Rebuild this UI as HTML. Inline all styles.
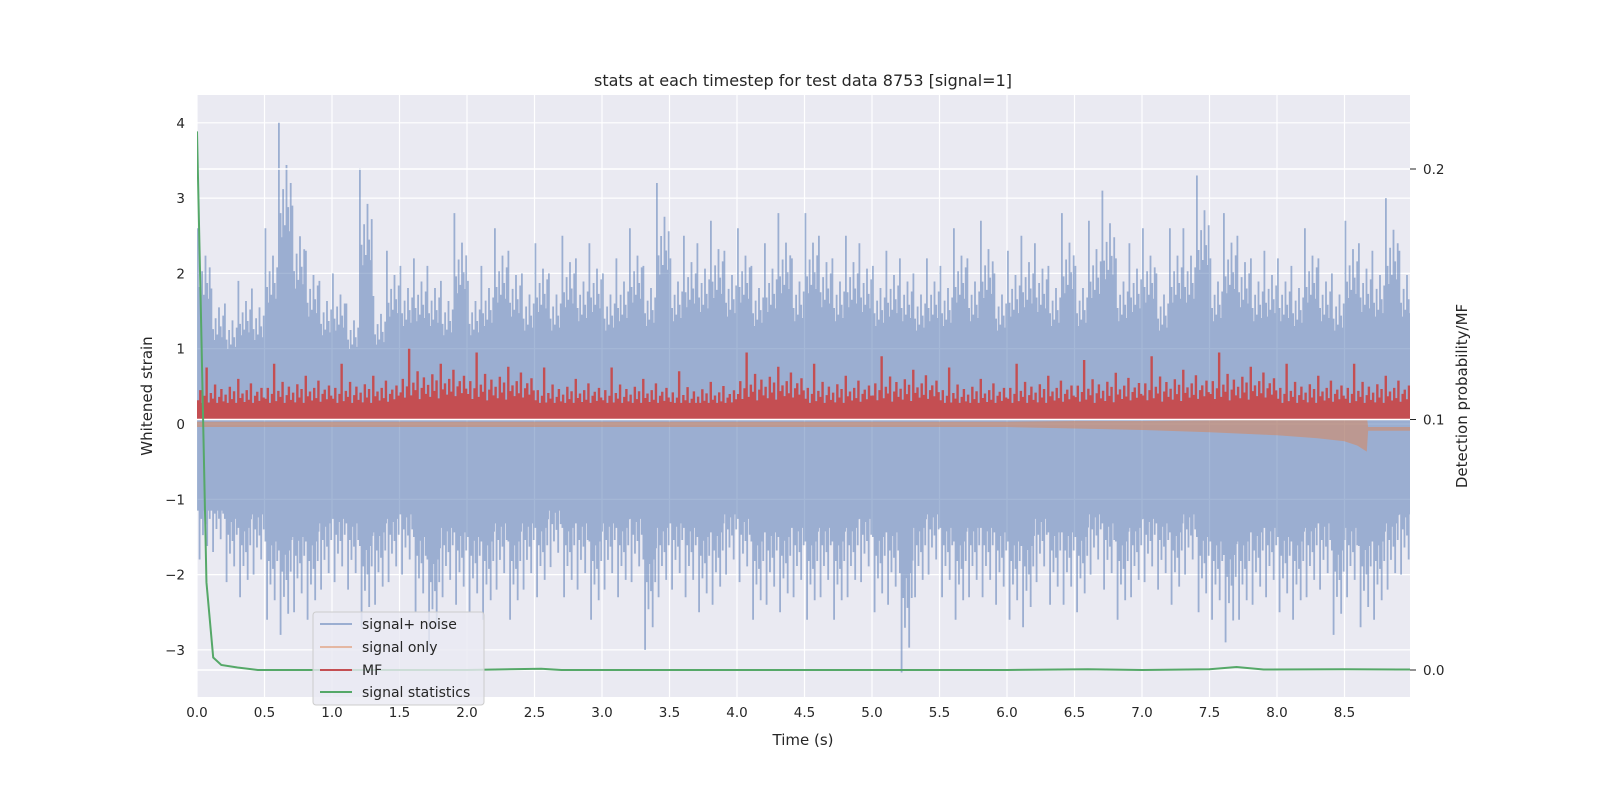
<!DOCTYPE html>
<html><head><meta charset="utf-8"><style>
html,body{margin:0;padding:0;background:#fff;}
svg text{font-family:"DejaVu Sans","Liberation Sans",sans-serif;fill:#262626;}
</style></head><body>
<svg id="chart" width="1600" height="800" viewBox="0 0 1600 800" xmlns="http://www.w3.org/2000/svg">
<rect x="197" y="95" width="1213" height="602" fill="#EAEAF2"/>
<g id="gridL"></g>
<g id="series"></g>
<g id="gridR"></g>
<g id="series2"></g>
<g id="axes"></g>
<text x="803" y="86" font-size="16" text-anchor="middle">stats at each timestep for test data 8753 [signal=1]</text>
<text x="803" y="745" font-size="15" text-anchor="middle">Time (s)</text>
<text transform="translate(152,396) rotate(-90)" font-size="15" text-anchor="middle">Whitened strain</text>
<text transform="translate(1467,396) rotate(-90)" font-size="15" text-anchor="middle">Detection probability/MF</text>
<g>
<rect x="313" y="612" width="171" height="93" rx="3" fill="#EAEAF2" fill-opacity="0.8" stroke="#cccccc"/>
<g><line x1="320" y1="624" x2="352" y2="624" stroke="#4C72B0" stroke-opacity="0.5" stroke-width="2"/><text x="362" y="629" font-size="14">signal+ noise</text></g>
<g><line x1="320" y1="647" x2="352" y2="647" stroke="#DD8452" stroke-opacity="0.5" stroke-width="2"/><text x="362" y="652" font-size="14">signal only</text></g>
<g><line x1="320" y1="670" x2="352" y2="670" stroke="#C44E52" stroke-width="2"/><text x="362" y="675" font-size="14">MF</text></g>
<g><line x1="320" y1="692" x2="352" y2="692" stroke="#55A868" stroke-width="2"/><text x="362" y="697" font-size="14">signal statistics</text></g>
</g>
</svg>
<script>
const xTicks=[0,0.5,1,1.5,2,2.5,3,3.5,4,4.5,5,5.5,6,6.5,7,7.5,8,8.5];
const xTickLabels=["0.0","0.5","1.0","1.5","2.0","2.5","3.0","3.5","4.0","4.5","5.0","5.5","6.0","6.5","7.0","7.5","8.0","8.5"];
const yTicks=[-3,-2,-1,0,1,2,3,4];
const yTickLabels=["\u22123","\u22122","\u22121","0","1","2","3","4"];
const rTicks=[0,0.1,0.2];
const rTickLabels=["0.0","0.1","0.2"];
const noiseBin=0.1;
const noiseMax=[2.6,1.8,1.6,1.9,1.8,2.6,4.0,2.9,2.3,1.9,2.0,1.6,3.4,1.7,2.3,2.1,2.2,2.1,1.9,2.8,1.9,2.1,2.6,2.3,2.0,2.4,2.0,2.5,2.2,2.4,2.0,2.2,2.6,2.1,3.2,2.2,2.5,2.4,2.7,2.3,2.6,2.1,2.4,2.8,2.2,2.8,2.5,2.2,2.5,2.4,2.1,2.3,2.2,2.0,2.2,2.1,2.6,2.2,2.7,2.0,2.3,2.5,2.4,2.1,2.8,2.1,2.7,3.1,2.2,2.4,2.6,2.0,2.6,2.6,3.3,2.2,2.8,2.5,2.2,2.3,2.2,2.1,2.6,2.2,2.0,2.7,2.4,2.3,3.0,2.3];
const noiseMin=[-1.8,-1.7,-2.1,-2.3,-2.0,-2.6,-2.8,-2.5,-2.6,-2.2,-2.1,-2.2,-2.7,-2.4,-2.1,-2.0,-2.5,-3.0,-2.3,-2.4,-2.5,-2.6,-2.2,-2.6,-2.2,-2.3,-1.9,-2.3,-2.2,-2.6,-2.2,-2.3,-2.1,-3.0,-2.3,-2.2,-2.3,-2.5,-2.4,-2.0,-2.1,-2.6,-2.4,-2.5,-2.3,-2.6,-2.3,-2.6,-2.3,-2.1,-2.5,-2.4,-3.3,-2.3,-2.0,-2.3,-2.6,-2.3,-2.3,-2.4,-2.6,-2.7,-2.1,-2.4,-2.4,-2.5,-2.0,-2.2,-2.6,-2.3,-2.1,-2.2,-2.4,-2.0,-2.5,-2.6,-2.9,-2.6,-2.4,-2.3,-2.5,-2.6,-2.3,-2.2,-2.8,-2.3,-2.7,-2.6,-2.2,-2.0];
const noiseCoreTop=1.0, noiseCoreBot=-1.15;
const mfBin=0.5;
const mfMax=[0.75,0.8,0.8,1.0,0.95,0.75,0.75,0.7,0.95,0.8,0.9,0.75,0.8,0.85,0.9,0.95,0.8,0.8];
const mfCoreTop=0.28, mfBase=0.06;
const sigT=[0,6.0,6.5,7.0,7.5,8.0,8.3,8.5,8.6,8.66,8.67,8.99];
const sigMin=[-0.03,-0.03,-0.05,-0.07,-0.1,-0.14,-0.18,-0.22,-0.28,-0.35,-0.08,-0.08];
const sigMax=[0.02,0.02,0.03,0.03,0.04,0.05,0.06,0.07,0.08,0.1,-0.05,-0.05];
const statT=[0,0.03,0.07,0.12,0.18,0.3,0.45,0.7,1.0,2.0,2.55,2.7,4.0,6.0,6.6,7.0,7.5,7.7,7.9,8.5,8.99];
const statV=[0.215,0.14,0.035,0.005,0.002,0.001,0.0,0.0,0.0,0.0,0.0005,0.0,0.0,0.0,0.0003,0.0,0.0003,0.0012,0.0002,0.0003,0.0002];

const NS="http://www.w3.org/2000/svg";
const PL=197,PR=1410,PT=95,PB=697;
const X=t=>PL+t*135;
const Y=v=>424-v*75.3;
const YR=v=>670-v*2505;
function mk(tag,attrs,parent){const e=document.createElementNS(NS,tag);for(const k in attrs)e.setAttribute(k,attrs[k]);parent.appendChild(e);return e;}
const gridL=document.getElementById('gridL'),gridR=document.getElementById('gridR'),series=document.getElementById('series'),series2=document.getElementById('series2'),axes=document.getElementById('axes');
xTicks.forEach((t,i)=>{
  const l=mk('line',{x1:X(t),x2:X(t),y1:PT,y2:PB,stroke:'#fff','stroke-width':1.2},gridL);
  
  
  const tx=mk('text',{x:X(t),y:PB+20,'font-size':13.5,'text-anchor':'middle'},axes);
  tx.textContent=xTickLabels[i];
  
  
});
yTicks.forEach((v,i)=>{
  const l=mk('line',{x1:PL,x2:PR,y1:Y(v),y2:Y(v),stroke:'#fff','stroke-width':1.2},gridL);
  
  
  const tx=mk('text',{x:PL-12,y:Y(v)+5,'font-size':13.5,'text-anchor':'end'},axes);
  tx.textContent=yTickLabels[i];
  
  
});
rTicks.forEach((v,i)=>{
  const l=mk('line',{x1:PL,x2:PR,y1:YR(v),y2:YR(v),stroke:'#fff','stroke-width':1.5},gridR);
  
  
  const tk=mk('line',{x1:PR,x2:PR+6,y1:YR(v),y2:YR(v),stroke:'#262626','stroke-width':1},axes);
  
  
  const tx=mk('text',{x:PR+13,y:YR(v)+5,'font-size':13.5},axes);
  tx.textContent=rTickLabels[i];
  
  
});
const clip=mk('clipPath',{id:'pc'},document.getElementById('chart'));
mk('rect',{x:PL,y:PT,width:PR-PL,height:PB-PT},clip);
series.setAttribute('clip-path','url(#pc)');
series2.setAttribute('clip-path','url(#pc)');
// noise
const gN=mk('g',{opacity:0.5},series);


const fU=[1,0.52,0.7,0.45,0.62,0.78,0.5,0.66,0.58,0.86,0.48,0.72,0.55,0.64,0.8,0.5];
const fD=[0.6,0.5,1,0.56,0.7,0.48,0.82,0.62,0.52,0.74,0.66,0.9,0.5,0.6,0.7,0.55];
let dN='';
noiseMax.forEach((mx,i)=>{
  const x0=X(i*noiseBin),w=X(noiseBin)-X(0);
  dN+=`M${x0} ${Y(noiseCoreTop)}H${x0+w}V${Y(noiseCoreBot)}H${x0}Z`;
  const mn=noiseMin[i];
  for(let j=0;j<16;j++){const x=x0+j*w/16;dN+=`M${x} ${Y(mx*fU[j])}h1.8V${Y(mn*fD[j])}h-1.8Z`;}
});
mk('path',{d:dN,fill:'#4C72B0'},gN);
// signal only
const gS=mk('g',{opacity:0.5},series);


let dS='M'+sigT.map((t,i)=>X(t)+' '+Y(sigMax[i])).join('L');
for(let i=sigT.length-1;i>=0;i--)dS+='L'+X(sigT[i])+' '+Y(sigMin[i]);
mk('path',{d:dS+'Z',fill:'#DD8452',stroke:'#DD8452','stroke-width':1.5},gS);
// MF
const gM=mk('g',{},series);


const fM=[0.42,0.6,0.35,0.5,1,0.38,0.55,0.45,0.7,0.33,0.48,0.62,0.4,0.52,0.36,0.66,0.44,0.58,0.34,0.8,0.46,0.54,0.39,0.6,0.43,0.72,0.37,0.5,0.57,0.41,0.64,0.47];
let dM='';
mfMax.forEach((mx,i)=>{
  const x0=X(i*mfBin),w=X(mfBin)-X(0);
  dM+=`M${x0} ${Y(mfCoreTop)}H${x0+w}V${Y(mfBase)}H${x0}Z`;
  for(let j=0;j<32;j++){const x=x0+j*w/32;dM+=`M${x} ${Y(mx*fM[j])}h2.4V${Y(mfBase)}h-2.4Z`;}
});
mk('path',{d:dM,fill:'#C44E52'},gM);
// stats (right axis, drawn above right grid)
const ps=mk('polyline',{points:statT.map((t,i)=>X(t)+','+YR(statV[i])).join(' '),fill:'none',stroke:'#55A868','stroke-width':2},series2);


</script>
</body></html>
